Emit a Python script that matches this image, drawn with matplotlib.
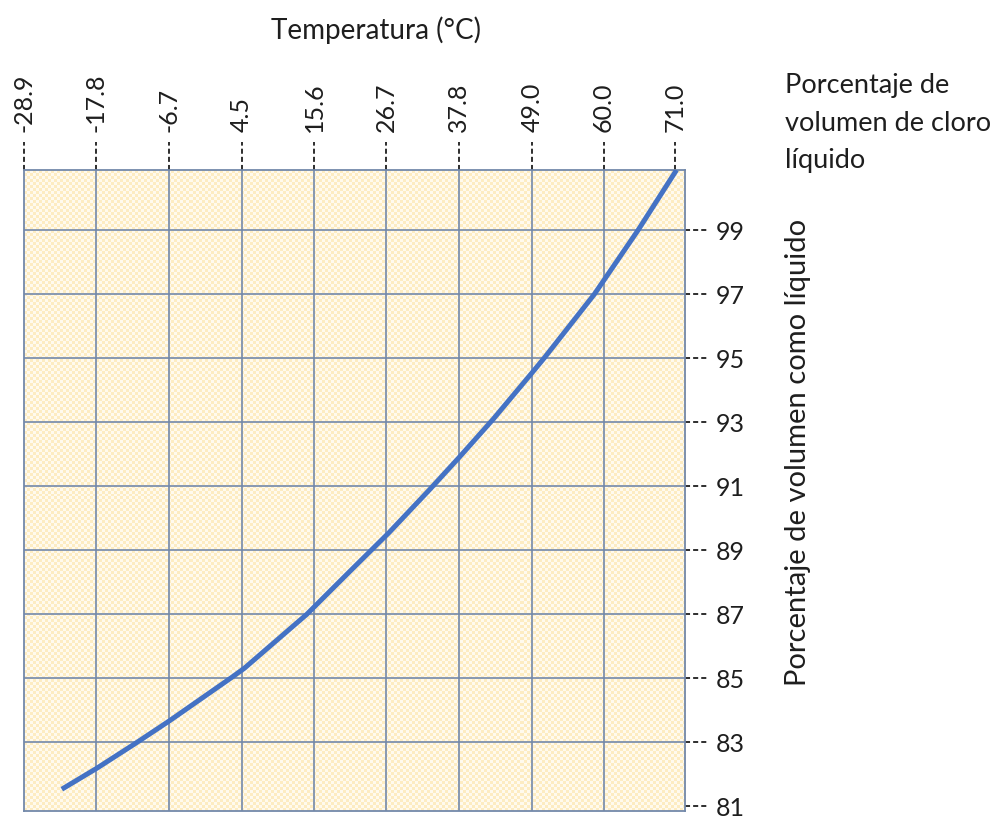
import numpy as np
import matplotlib
matplotlib.use("Agg")
import matplotlib.pyplot as plt
import matplotlib.transforms as mtransforms
from matplotlib.colors import ListedColormap

plt.rcParams["font.family"] = ["Lato", "DejaVu Sans"]

# Temperature axis (top) and volume-percentage axis (right)
temp_ticks = [-28.9, -17.8, -6.7, 4.5, 15.6, 26.7, 37.8, 49.0, 60.0, 71.0]
temp_labels = ["-28.9", "-17.8", "-6.7", "4.5", "15.6", "26.7",
               "37.8", "49.0", "60.0", "71.0"]
pct_ticks = [81, 83, 85, 87, 89, 91, 93, 95, 97, 99]

# Liquid chlorine volume percentage vs temperature
curve_temp = [-23.1, -17.7, -11.9, -6.5, 3.0, 4.9, 14.5, 21.0, 27.1,
              33.4, 37.9, 43.1, 49.1, 51.0, 58.6, 65.3, 71.2]
curve_pct = [81.53, 82.19, 82.95, 83.68, 85.03, 85.31, 87.0, 88.32, 89.55,
             90.91, 91.91, 93.1, 94.56, 95.03, 97.0, 99.0, 100.88]

X_MIN, X_MAX = -28.9, 72.5
Y_MIN, Y_MAX = 80.85, 100.88

GRID = "#7389aa"
INK = "#1e1e1e"
CURVE = "#4472C4"

W, H = 998, 817
fig = plt.figure(figsize=(W / 100, H / 100), dpi=100)
ax_l, ax_r, ax_t, ax_b = 24, 685, 170, 811
ax = fig.add_axes([ax_l / W, (H - ax_b) / H, (ax_r - ax_l) / W, (ax_b - ax_t) / H])

# Pale checkered paper background
nx, ny = 220, 214
board = np.indices((ny, nx)).sum(axis=0) % 2
ax.imshow(board, extent=(X_MIN, X_MAX, Y_MIN, Y_MAX), origin="lower",
          cmap=ListedColormap(["#fdecc2", "#fffaee"]), interpolation="nearest",
          aspect="auto", zorder=0)

ax.set_xlim(X_MIN, X_MAX)
ax.set_ylim(Y_MIN, Y_MAX)

# Grid
ax.vlines(temp_ticks[1:-1], Y_MIN, Y_MAX, colors=GRID, lw=1.2, zorder=1)
ax.hlines(pct_ticks[1:], X_MIN, X_MAX, colors=GRID, lw=1.2, zorder=1)

# Curve
ax.plot(curve_temp, curve_pct, color=CURVE, lw=3.6, solid_capstyle="butt",
        solid_joinstyle="round", zorder=3)

for sp in ax.spines.values():
    sp.set_color(GRID)
    sp.set_linewidth(1.3)

# Ticks and labels
ax.xaxis.tick_top()
ax.set_xticks(temp_ticks)
ax.set_xticklabels(temp_labels, rotation=90)
ax.tick_params(axis="x", length=0, pad=27, labelsize=18, labelcolor=INK)
ax.yaxis.tick_right()
ax.set_yticks(pct_ticks)
ax.set_yticklabels([str(p) for p in pct_ticks])
ax.tick_params(axis="y", length=0, pad=22, labelsize=18, labelcolor=INK)

# Dashed tick leaders
ax_w, ax_h = ax_r - ax_l, ax_b - ax_t
tx = mtransforms.blended_transform_factory(ax.transData, ax.transAxes)
for t in temp_ticks:
    ax.plot([t, t], [1, 1 + 28 / ax_h], transform=tx, clip_on=False,
            color=INK, lw=1.3, ls=(0, (2.8, 1.7)))
ty = mtransforms.blended_transform_factory(ax.transAxes, ax.transData)
for p in pct_ticks:
    ax.plot([1, 1 + 24 / ax_w], [p, p], transform=ty, clip_on=False,
            color=INK, lw=1.3, ls=(0, (2.8, 1.7)))

# Titles
fig.text(376 / W, 1 - 30 / H, "Temperatura (°C)", ha="center", va="center",
         fontsize=20, color=INK)
fig.text(785 / W, 1 - 168 / H, "Porcentaje de\nvolumen de cloro\nlíquido",
         ha="left", va="baseline", fontsize=19.5, color=INK, linespacing=1.62)
fig.text(798 / W, 1 - 452 / H, "Porcentaje de volumen como líquido",
         rotation=90, ha="center", va="center", fontsize=21, color=INK)

fig.savefig("out.png", dpi=100)
